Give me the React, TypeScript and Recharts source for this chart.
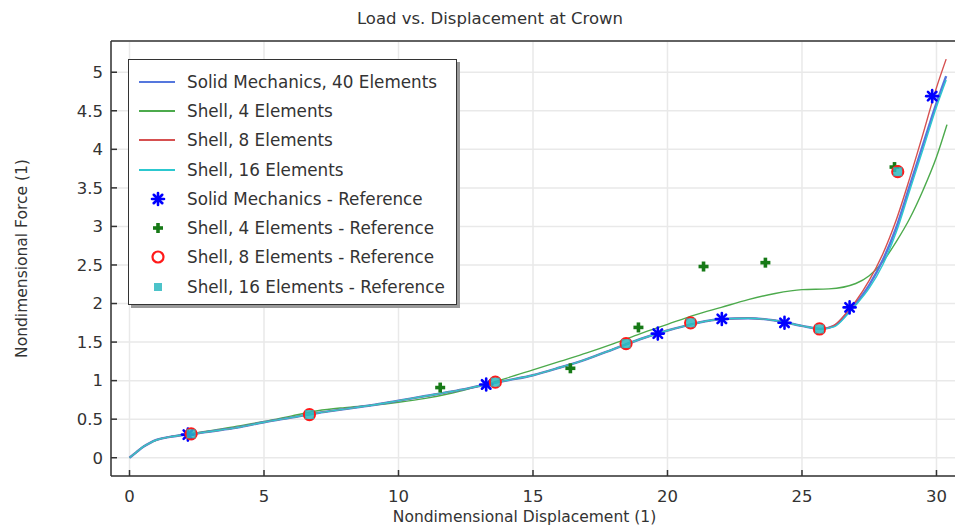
import { ComposedChart, Line, Scatter, XAxis, YAxis, CartesianGrid, Legend, Label } from 'recharts'

// curves [displacement, force]
const solidMechanics40: [number, number][] = [
  [0, 0], [0.25, 0.07], [0.5, 0.14], [0.75, 0.19], [1, 0.23], [1.5, 0.27], [2, 0.295], [2.5, 0.315],
  [3, 0.34], [4, 0.39], [5, 0.46], [6, 0.52], [7, 0.58], [8, 0.63], [9, 0.68], [10, 0.74], [11, 0.8],
  [12, 0.86], [13, 0.93], [14, 1.0], [15, 1.07], [16, 1.17], [17, 1.28], [18, 1.41], [19, 1.54],
  [20, 1.65], [21, 1.74], [22, 1.8], [23, 1.81], [24, 1.78], [25, 1.71], [25.7, 1.67], [26.2, 1.71],
  [26.7, 1.88], [27, 2.0], [27.5, 2.24], [28, 2.56], [28.5, 2.98], [29, 3.52], [29.5, 4.06],
  [30, 4.6], [30.36, 4.95],
]
const shell4: [number, number][] = [
  [0, 0], [0.25, 0.07], [0.5, 0.14], [0.75, 0.19], [1, 0.23], [1.5, 0.27], [2, 0.3], [3, 0.35],
  [4, 0.41], [5, 0.47], [6, 0.54], [7, 0.61], [8, 0.65], [9, 0.68], [10, 0.72], [11, 0.77], [12, 0.84],
  [13, 0.93], [14, 1.03], [15, 1.14], [16, 1.25], [17, 1.36], [18, 1.48], [19, 1.61], [20, 1.73],
  [21, 1.85], [22, 1.95], [23, 2.05], [24, 2.13], [25, 2.18], [26, 2.19], [27, 2.26], [27.5, 2.36],
  [28, 2.54], [28.5, 2.8], [29, 3.1], [29.5, 3.47], [30, 3.9], [30.39, 4.32],
]
const shell8: [number, number][] = [
  [0, 0], [0.25, 0.07], [0.5, 0.14], [0.75, 0.19], [1, 0.23], [1.5, 0.27], [2, 0.295], [2.5, 0.315],
  [3, 0.34], [4, 0.39], [5, 0.46], [6, 0.52], [7, 0.58], [8, 0.63], [9, 0.68], [10, 0.74], [11, 0.8],
  [12, 0.86], [13, 0.93], [14, 1.0], [15, 1.07], [16, 1.17], [17, 1.28], [18, 1.41], [19, 1.54],
  [20, 1.65], [21, 1.74], [22, 1.8], [23, 1.81], [24, 1.78], [25, 1.71], [25.7, 1.67], [26.2, 1.72],
  [26.7, 1.9], [27, 2.03], [27.5, 2.3], [28, 2.64], [28.5, 3.08], [29, 3.62], [29.5, 4.2],
  [30, 4.8], [30.36, 5.17],
]
const shell16: [number, number][] = [
  [0, 0], [0.25, 0.07], [0.5, 0.14], [0.75, 0.19], [1, 0.23], [1.5, 0.27], [2, 0.295], [2.5, 0.315],
  [3, 0.34], [4, 0.39], [5, 0.46], [6, 0.52], [7, 0.58], [8, 0.63], [9, 0.68], [10, 0.74], [11, 0.8],
  [12, 0.86], [13, 0.93], [14, 1.0], [15, 1.07], [16, 1.17], [17, 1.28], [18, 1.41], [19, 1.54],
  [20, 1.65], [21, 1.74], [22, 1.8], [23, 1.81], [24, 1.78], [25, 1.71], [25.7, 1.67], [26.2, 1.7],
  [26.7, 1.86], [27, 1.98], [27.5, 2.2], [28, 2.5], [28.5, 2.92], [29, 3.46], [29.5, 4.0],
  [30, 4.55], [30.36, 4.9],
]

// reference points
const solidRef: [number, number][] = [
  [2.17, 0.3], [13.26, 0.95], [19.64, 1.61], [22.02, 1.8], [24.35, 1.75], [26.77, 1.95], [29.84, 4.69],
]
const shell4Ref: [number, number][] = [
  [11.55, 0.91], [16.39, 1.16], [18.92, 1.69], [21.34, 2.48], [23.64, 2.53], [28.44, 3.77],
]
const shell8Ref: [number, number][] = [
  [2.29, 0.31], [6.69, 0.56], [13.6, 0.98], [18.46, 1.48], [20.86, 1.75], [25.65, 1.67], [28.56, 3.71],
]
const shell16Ref: [number, number][] = [
  [2.29, 0.31], [6.69, 0.56], [13.6, 0.98], [18.46, 1.48], [20.86, 1.75], [25.65, 1.67], [28.56, 3.71],
]

const xTicks = [0, 5, 10, 15, 20, 25, 30]
const yTicks = [0, 0.5, 1, 1.5, 2, 2.5, 3, 3.5, 4, 4.5, 5]

const pts = (a: [number, number][]) => a.map(([x, y]) => ({ x, y }))

const FONT = "'DejaVu Sans', sans-serif"
const TXT = '#333'
const BLUE_LINE = '#5577dd'
const GREEN_LINE = '#4caa4c'
const RED_LINE = '#d65050'
const CYAN_LINE = '#2cc8cf'
const STAR = '#0000ff'
const PLUS = '#177a17'
const RING = '#ff1a1a'
const SQUARE = '#2db8c0'

const StarMark = ({ cx, cy, r = 6 }: any) => {
  const d = r * 0.707
  return (
    <g stroke={STAR} strokeWidth={2.6} strokeLinecap="round">
      <line x1={cx} y1={cy - r} x2={cx} y2={cy + r} />
      <line x1={cx - r} y1={cy} x2={cx + r} y2={cy} />
      <line x1={cx - d} y1={cy - d} x2={cx + d} y2={cy + d} />
      <line x1={cx - d} y1={cy + d} x2={cx + d} y2={cy - d} />
    </g>
  )
}
const PlusMark = ({ cx, cy, r = 5 }: any) => (
  <g stroke={PLUS} strokeWidth={3.6}>
    <line x1={cx} y1={cy - r} x2={cx} y2={cy + r} />
    <line x1={cx - r} y1={cy} x2={cx + r} y2={cy} />
  </g>
)
const RingMark = ({ cx, cy, fill = 'none' }: any) => (
  <circle cx={cx} cy={cy} r={5.5} fill={fill} stroke={RING} strokeWidth={2.2} />
)
const SquareMark = ({ cx, cy, s = 4.5 }: any) => (
  <rect x={cx - s} y={cy - s} width={s * 2} height={s * 2} fill={SQUARE} opacity={0.85} />
)

const legendRows = [
  { name: 'Solid Mechanics, 40 Elements', icon: 'line', color: BLUE_LINE },
  { name: 'Shell, 4 Elements', icon: 'line', color: GREEN_LINE },
  { name: 'Shell, 8 Elements', icon: 'line', color: RED_LINE },
  { name: 'Shell, 16 Elements', icon: 'line', color: CYAN_LINE },
  { name: 'Solid Mechanics - Reference', icon: 'star', color: STAR },
  { name: 'Shell, 4 Elements - Reference', icon: 'plus', color: PLUS },
  { name: 'Shell, 8 Elements - Reference', icon: 'ring', color: RING },
  { name: 'Shell, 16 Elements - Reference', icon: 'square', color: SQUARE },
]

function LegendBox() {
  return (
    <div
      style={{
        boxSizing: 'border-box',
        width: 329,
        height: 246,
        border: '1.5px solid #333',
        background: '#fff',
        boxShadow: '3px 3px 0 #9a9a9a',
        padding: '7px 0 0 0',
        fontFamily: FONT,
        fontSize: 16.8,
        color: TXT,
      }}
    >
      {legendRows.map(r => (
        <div key={r.name} style={{ display: 'flex', alignItems: 'center', height: 29.3 }}>
          <svg width={58} height={20} style={{ flex: 'none' }}>
            {r.icon === 'line' && <line x1={10} y1={10} x2={46} y2={10} stroke={r.color} strokeWidth={2} />}
            {r.icon === 'star' && <StarMark cx={29} cy={10} />}
            {r.icon === 'plus' && <PlusMark cx={29} cy={10} />}
            {r.icon === 'ring' && <RingMark cx={29} cy={10} fill="#fff" />}
            {r.icon === 'square' && <SquareMark cx={29} cy={10} s={4} />}
          </svg>
          <span style={{ whiteSpace: 'nowrap' }}>{r.name}</span>
        </div>
      ))}
    </div>
  )
}

const TitleText = () => (
  <text x={490} y={24} textAnchor="middle" fontFamily={FONT} fontSize={16.5} fill={TXT}>
    Load vs. Displacement at Crown
  </text>
)
const XTitle = ({ viewBox }: any) => (
  <text x={viewBox.x + viewBox.width / 2 - 10} y={522} textAnchor="middle" fontFamily={FONT} fontSize={15.5} fill={TXT}>
    Nondimensional Displacement (1)
  </text>
)
const YTitle = ({ viewBox }: any) => {
  const cy = viewBox.y + viewBox.height / 2
  return (
    <text
      x={22}
      y={cy}
      transform={`rotate(-90 22 ${cy})`}
      textAnchor="middle"
      dominantBaseline="central"
      fontFamily={FONT}
      fontSize={15.5}
      fill={TXT}
    >
      Nondimensional Force (1)
    </text>
  )
}

export default function App() {
  const tickStyle = { fill: TXT, fontSize: 16.5, fontFamily: FONT }
  return (
    <div style={{ position: 'absolute', left: 0, top: 0, width: 955, height: 526, overflow: 'hidden', background: '#fff' }}>
      <ComposedChart width={958} height={526} margin={{ top: 40, right: 0, bottom: 0, left: 0 }}>
        <CartesianGrid stroke="#e9e9e9" strokeWidth={1.5} />
        <XAxis
          dataKey="x"
          type="number"
          domain={[-0.688, 30.8]}
          ticks={xTicks}
          allowDataOverflow
          height={50}
          tickSize={-6}
          tickMargin={20}
          tick={tickStyle}
          stroke="#333"
          strokeWidth={1.5}
        >
          <Label content={XTitle} />
        </XAxis>
        <XAxis
          xAxisId="top"
          orientation="top"
          type="number"
          domain={[-0.688, 30.8]}
          ticks={xTicks}
          allowDataOverflow
          height={1}
          tickSize={-6}
          tick={() => <g />}
          stroke="#333"
          strokeWidth={1.5}
        >
          <Label content={TitleText} />
        </XAxis>
        <YAxis
          type="number"
          domain={[-0.237, 5.405]}
          ticks={yTicks}
          allowDataOverflow
          width={111}
          tickSize={-6}
          tickMargin={14}
          tick={tickStyle}
          stroke="#333"
          strokeWidth={1.5}
        >
          <Label content={YTitle} />
        </YAxis>
        <Legend
          layout="vertical"
          align="center"
          verticalAlign="middle"
          wrapperStyle={{ left: 128, top: 59, width: 'auto' }}
          content={() => <LegendBox />}
        />
        <Line data={pts(shell4)} dataKey="y" type="monotone" stroke={GREEN_LINE} strokeWidth={1.4} dot={false} isAnimationActive={false} />
        <Line data={pts(solidMechanics40)} dataKey="y" type="monotone" stroke={BLUE_LINE} strokeWidth={2.4} dot={false} isAnimationActive={false} />
        <Line data={pts(shell8)} dataKey="y" type="monotone" stroke={RED_LINE} strokeWidth={1.4} dot={false} isAnimationActive={false} />
        <Line data={pts(shell16)} dataKey="y" type="monotone" stroke={CYAN_LINE} strokeWidth={1.4} dot={false} isAnimationActive={false} />
        <Scatter data={pts(solidRef)} dataKey="y" shape={(p: any) => <StarMark cx={p.cx} cy={p.cy} />} isAnimationActive={false} />
        <Scatter data={pts(shell4Ref)} dataKey="y" shape={(p: any) => <PlusMark cx={p.cx} cy={p.cy} />} isAnimationActive={false} />
        <Scatter data={pts(shell8Ref)} dataKey="y" shape={(p: any) => <RingMark cx={p.cx} cy={p.cy} />} isAnimationActive={false} />
        <Scatter data={pts(shell16Ref)} dataKey="y" shape={(p: any) => <SquareMark cx={p.cx} cy={p.cy} />} isAnimationActive={false} />
      </ComposedChart>
    </div>
  )
}
